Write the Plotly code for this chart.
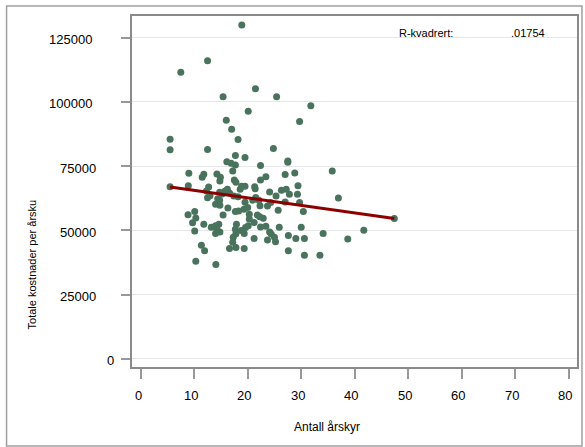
import plotly.graph_objects as go

# Scatter data: Antall årskyr (x) vs Totale kostnader per årsku (y)
antall_arskyr = [
    18.9, 7.5, 12.5, 21.45, 15.4, 25.4, 31.8, 20.1, 16.0, 29.7,
    17.0, 5.5, 18.2, 5.5, 12.5, 24.8, 17.7, 19.5, 16.1, 16.9,
    17.7, 22.4, 27.5, 27.5, 17.2, 9.0, 14.25, 14.9, 11.8, 11.5,
    28.8, 27.0, 35.8, 23.4, 17.5, 22.4, 14.8, 17.8, 29.4, 8.9,
    5.5, 12.7, 18.85, 19.5, 21.3, 21.4, 18.6, 27.2, 26.3, 24.1,
    27.8, 29.3, 12.3, 16.2, 15.7, 14.75, 16.6, 15.2, 12.95, 12.5,
    14.4, 14.75, 25.3, 17.4, 18.2, 21.5, 19.5, 20.95, 27.0, 29.7,
    36.95, 14.0, 14.8, 16.3, 22.3, 23.7, 20.0, 19.3, 18.3, 17.7,
    25.7, 30.4, 10.1, 8.85, 10.3, 15.4, 20.3, 21.8, 20.3, 22.25,
    22.9, 9.7, 11.8, 14.6, 17.9, 21.2, 14.0, 20.1, 19.6, 13.2,
    22.4, 23.4, 25.9, 30.0, 10.1, 14.25, 14.8, 14.0, 17.7, 17.8,
    18.8, 19.35, 24.1, 24.4, 25.0, 25.2, 27.6, 29.0, 30.6, 34.1,
    21.2, 23.7, 17.3, 17.2, 11.35, 11.95, 16.6, 17.8, 19.35, 27.6,
    30.6, 33.5, 10.3, 14.05, 38.7, 41.7, 47.4, 24.3, 22.1,
]
kostnader_per_arsku = [
    129900, 111600, 116000, 105100, 102000, 102000, 98500, 96400, 92900, 92400,
    89400, 85500, 85400, 81400, 81500, 81900, 79200, 78400, 76700, 76200,
    75500, 75300, 77000, 76500, 73100, 72300, 72000, 70700, 71900, 70700,
    72400, 71800, 73100, 70900, 69600, 69600, 69300, 68800, 67400, 67400,
    67000, 66900, 67200, 67200, 67000, 66200, 66000, 66000, 65700, 65000,
    64100, 64100, 65400, 66000, 65300, 64900, 64600, 64200, 63500, 62700,
    62300, 61800, 63400, 63400, 63100, 62800, 61000, 61800, 61100, 60900,
    62600, 60200, 59800, 58700, 59600, 59500, 58900, 58300, 57600, 57400,
    57900, 57400, 57400, 56100, 54900, 56000, 56300, 56000, 54500, 55300,
    54800, 53000, 52400, 52400, 52400, 53100, 51800, 51800, 51200, 51300,
    51400, 51600, 51300, 51300, 49800, 50400, 49400, 48800, 50500, 48700,
    50000, 48800, 49400, 48600, 47400, 45600, 48000, 46900, 46900, 48800,
    46900, 46300, 47400, 45400, 44300, 42100, 43000, 43400, 43000, 42100,
    40400, 40400, 38000, 36800, 46700, 50100, 54700, 60900, 61800,
]

# Linear fit line (endpoints)
fit_x = [5.5, 47.4]
fit_y = [66900, 54700]

x_ticks = [0, 10, 20, 30, 40, 50, 60, 70, 80]
y_ticks = [0, 25000, 50000, 75000, 100000, 125000]

r2_label = "R-kvadrert:"
r2_value = ".01754"

FONT = "Liberation Sans, Arial, sans-serif"
PW = 447.0   # plot width (px)
PH = 351.0   # plot height (px)
PL = 132     # plot left (px)
PB = 367     # plot bottom (px)

fig = go.Figure()
fig.add_trace(go.Scatter(
    x=antall_arskyr, y=kostnader_per_arsku, mode="markers",
    marker=dict(size=7, color="#4a735e", line=dict(width=0)),
    showlegend=False, hoverinfo="skip",
))
fig.add_trace(go.Scatter(
    x=fit_x, y=fit_y, mode="lines",
    line=dict(color="#8c0000", width=3),
    showlegend=False, hoverinfo="skip",
))

# y tick labels (centred where the original narrow labels sit)
annotations = [
    dict(text=str(v), xref="paper", yref="y",
         x=(118 - 7.95 * len(str(v)) - PL) / PW, y=v, yshift=-2,
         showarrow=False, xanchor="center", yanchor="middle",
         font=dict(family=FONT, size=13))
    for v in y_ticks
]
# x tick labels
annotations += [
    dict(text=str(v), xref="x", yref="paper",
         x=v, y=(PB - 395) / PH, xshift=-1.75 * len(str(v)),
         showarrow=False, xanchor="center", yanchor="middle",
         font=dict(family=FONT, size=13))
    for v in x_ticks
]
annotations += [
    dict(text="Antall årskyr", xref="paper", yref="paper",
         x=(328 - PL) / PW, y=(PB - 427) / PH,
         showarrow=False, xanchor="center", yanchor="middle",
         font=dict(family=FONT, size=12)),
    dict(text="Totale kostnader per årsku", xref="paper", yref="paper",
         x=(32 - PL) / PW, y=(PB - 264) / PH, textangle=-90,
         showarrow=False, xanchor="center", yanchor="middle",
         font=dict(family=FONT, size=11)),
    dict(text=r2_label, xref="paper", yref="paper",
         x=(427.5 - PL) / PW, y=(PB - 33) / PH,
         showarrow=False, xanchor="center", yanchor="middle",
         font=dict(family=FONT, size=11)),
    dict(text=r2_value, xref="paper", yref="paper",
         x=(529.4 - PL) / PW, y=(PB - 33) / PH,
         showarrow=False, xanchor="center", yanchor="middle",
         font=dict(family=FONT, size=11)),
]

fig.update_layout(
    width=585, height=447,
    margin=dict(l=132, r=6, t=16, b=80),
    paper_bgcolor="white", plot_bgcolor="white",
    font=dict(family=FONT, size=13, color="black"),
    xaxis=dict(
        range=[-1.62, 81.54], tickvals=x_ticks, showticklabels=False,
        ticks="outside", ticklen=10, tickcolor="#999999", tickwidth=1.5,
        showgrid=False, zeroline=False, showline=True, linecolor="#8a8a8a", linewidth=1.5,
        mirror=True,
    ),
    yaxis=dict(
        range=[-3115, 133450], tickvals=y_ticks, showticklabels=False,
        ticks="outside", ticklen=9, tickcolor="#999999", tickwidth=1.5,
        showgrid=True, gridcolor="#e6e6e6", gridwidth=1.2,
        zeroline=False, showline=True, linecolor="#8a8a8a", linewidth=1.5,
        mirror=True,
    ),
    annotations=annotations,
    shapes=[
        dict(type="rect", xref="paper", yref="paper",
             x0=(6 - PL) / PW, x1=(584 - PL) / PW,
             y0=(PB - 446) / PH, y1=(PB - 6) / PH,
             line=dict(color="#a0a0a0", width=1.5), layer="below"),
    ],
)

fig.write_html("out.html")
